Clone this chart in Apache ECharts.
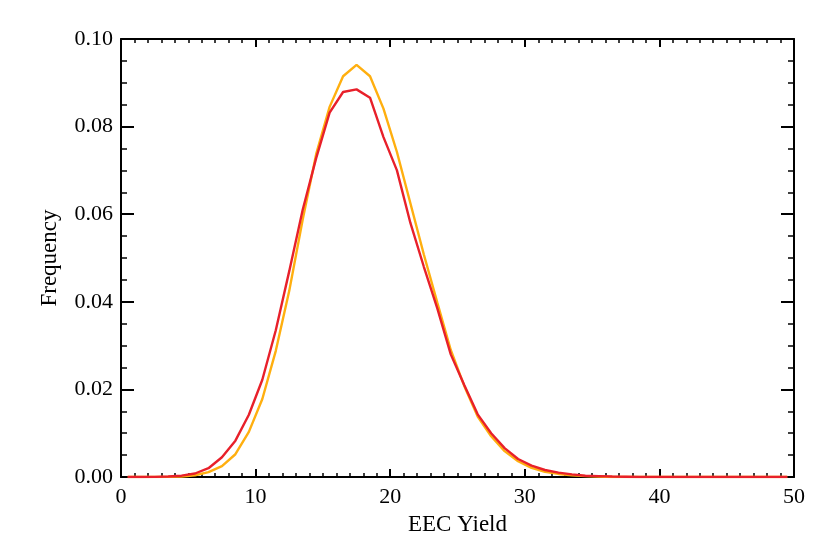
<!DOCTYPE html>
<html>
<head>
<meta charset="utf-8">
<script src="https://cdn.jsdelivr.net/npm/echarts@6/dist/echarts.min.js"></script>
<style>html,body{margin:0;padding:0;background:#fff}#c{width:830px;height:554px}</style>
</head>
<body>
<div id="c"></div>
<script>
var xValues = [0.5,1.5,2.5,3.5,4.5,5.5,6.5,7.5,8.5,9.5,10.5,11.5,12.5,13.5,14.5,15.5,16.5,17.5,18.5,19.5,20.5,21.5,22.5,23.5,24.5,25.5,26.5,27.5,28.5,29.5,30.5,31.5,32.5,33.5,34.5,35.5,36.5,37.5,38.5,39.5,40.5,41.5,42.5,43.5,44.5,45.5,46.5,47.5,48.5,49.5];
var orangeValues = [0,0,0,0.00003,0.0001,0.0004,0.0011,0.0025,0.0052,0.0103,0.0178,0.0288,0.0425,0.0588,0.0737,0.0845,0.0915,0.0941,0.0915,0.0841,0.0742,0.0625,0.0508,0.0398,0.0290,0.0208,0.0138,0.0093,0.0059,0.0036,0.0021,0.0012,0.0007,0.0004,0.0002,0.0001,0,0,0,0,0,0,0,0,0,0,0,0,0,0];
var redValues = [0,0,0.00002,0.0001,0.0003,0.0008,0.0020,0.0045,0.0083,0.0142,0.0222,0.0335,0.0470,0.0610,0.0728,0.0832,0.0879,0.0885,0.0866,0.0776,0.0700,0.0580,0.0480,0.0385,0.0280,0.0210,0.0143,0.0100,0.0066,0.0041,0.0026,0.0016,0.0010,0.0006,0.0003,0.0002,0.0001,0.00005,0,0,0,0,0,0,0,0,0,0,0,0];
var xTitle = 'EEC Yield';
var yTitle = 'Frequency';

function pairs(ys){ return xValues.map(function(x,i){ return [x, ys[i]]; }); }

var font = 'Liberation Serif';
var axisLine = {show:true, onZero:false, lineStyle:{color:'#000', width:2}};
var chart = echarts.init(document.getElementById('c'), null, {renderer:'canvas'});
chart.setOption({
  animation:false,
  backgroundColor:'#fff',
  grid:{left:121, right:36, top:39, bottom:77, containLabel:false},
  xAxis:[{
    type:'value', min:0, max:50, interval:10, position:'bottom',
    name:xTitle, nameLocation:'middle', nameGap:36,
    nameTextStyle:{fontFamily:font, fontSize:23, color:'#000'},
    axisLine:axisLine,
    axisTick:{show:true, inside:true, length:8, lineStyle:{color:'#000', width:2}},
    minorTick:{show:true, splitNumber:10, length:4, lineStyle:{color:'#000', width:1.5}},
    axisLabel:{fontFamily:font, fontSize:22, color:'#000', margin:9},
    splitLine:{show:false}
  },{
    type:'value', min:0, max:50, interval:10, position:'top',
    axisLine:axisLine,
    axisTick:{show:true, inside:true, length:8, lineStyle:{color:'#000', width:2}},
    minorTick:{show:true, splitNumber:10, length:4, lineStyle:{color:'#000', width:1.5}},
    axisLabel:{show:false}, splitLine:{show:false}
  }],
  yAxis:[{
    type:'value', min:0, max:0.1, interval:0.02, position:'left',
    name:yTitle, nameLocation:'middle', nameGap:60, nameRotate:90,
    nameTextStyle:{fontFamily:font, fontSize:23, color:'#000'},
    axisLine:axisLine,
    axisTick:{show:true, inside:true, length:13, lineStyle:{color:'#000', width:2}},
    minorTick:{show:true, splitNumber:4, length:6, lineStyle:{color:'#000', width:1.5}},
    axisLabel:{fontFamily:font, fontSize:22, color:'#000', margin:8, formatter:function(v){return v.toFixed(2);}},
    splitLine:{show:false}
  },{
    type:'value', min:0, max:0.1, interval:0.02, position:'right',
    axisLine:axisLine,
    axisTick:{show:true, inside:true, length:13, lineStyle:{color:'#000', width:2}},
    minorTick:{show:true, splitNumber:4, length:6, lineStyle:{color:'#000', width:1.5}},
    axisLabel:{show:false}, splitLine:{show:false}
  }],
  series:[{
    type:'line', data:pairs(orangeValues), showSymbol:false, symbol:'none',
    lineStyle:{color:'#FFAF0F', width:2.4}, z:2
  },{
    type:'line', data:pairs(redValues), showSymbol:false, symbol:'none',
    lineStyle:{color:'#E8202A', width:2.4}, z:3
  }]
});
</script>
</body>
</html>
